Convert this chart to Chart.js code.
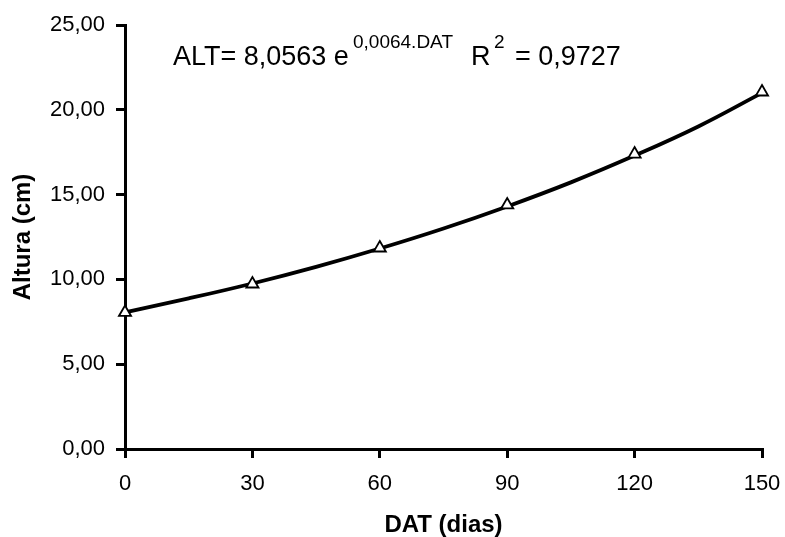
<!DOCTYPE html>
<html>
<head>
<meta charset="utf-8">
<script src="https://cdn.jsdelivr.net/npm/chart.js@4/dist/chart.umd.min.js"></script>
<style>
  html, body { margin: 0; padding: 0; background: #fff; }
  #wrap { width: 785px; height: 537px; }
</style>
</head>
<body>
<div id="wrap"><canvas id="myChart" width="785" height="537"></canvas></div>
<script>
// observed points (DAT, ALT)
var days = [0, 30, 60, 90, 120, 150];
var heights = [8.05, 9.73, 11.85, 14.39, 17.39, 21.05];

// fitted curve, every 15 days
var trendDays = [0, 15, 30, 45, 60, 75, 90, 105, 120, 135, 150];
var trendHeights = [8.06, 8.88, 9.76, 10.74, 11.82, 13.0, 14.3, 15.72, 17.3, 19.02, 21.0];

var xTicks = [0, 30, 60, 90, 120, 150];
var yTicks = [0, 5, 10, 15, 20, 25];

var FONT = '"Liberation Sans", Arial, sans-serif';

function pairs(xs, ys) {
  return xs.map(function(x, i) { return { x: x, y: ys[i] }; });
}

// equation text drawn on top of the chart
var equation = {
  id: 'equation',
  afterDraw: function(chart) {
    var ctx = chart.ctx;
    ctx.save();
    ctx.fillStyle = '#000';
    ctx.textAlign = 'left';
    ctx.textBaseline = 'alphabetic';
    ctx.font = '27px ' + FONT;
    ctx.fillText('ALT= 8,0563 e', 173, 65);
    ctx.fillText('R', 471, 65);
    ctx.fillText('= 0,9727', 515, 65);
    ctx.font = '19px ' + FONT;
    ctx.fillText('0,0064.DAT', 353, 48);
    ctx.fillText('2', 494, 48);
    ctx.restore();
  }
};

var axisLine = { display: true, color: '#000', width: 3 };
var tickMarks = { display: true, drawOnChartArea: false, drawTicks: true, tickLength: 9, color: '#000', lineWidth: 3 };

new Chart(document.getElementById('myChart'), {
  type: 'scatter',
  data: {
    datasets: [{
      type: 'line',
      data: pairs(trendDays, trendHeights),
      borderColor: '#000',
      borderWidth: 3.8,
      pointRadius: 0,
      tension: 0.4,
      fill: false,
      clip: false,
      order: 2
    }, {
      data: pairs(days, heights),
      pointStyle: 'triangle',
      pointRadius: 7,
      pointBackgroundColor: '#fff',
      pointBorderColor: '#000',
      pointBorderWidth: 1.8,
      clip: false,
      order: 1
    }]
  },
  options: {
    responsive: false,
    animation: false,
    layout: { autoPadding: false, padding: { top: 25, right: 23, left: 0, bottom: 0 } },
    plugins: { legend: { display: false }, tooltip: { enabled: false } },
    scales: {
      x: {
        type: 'linear',
        min: 0, max: 150,
        afterBuildTicks: function(s) { s.ticks = xTicks.map(function(v) { return { value: v }; }); },
        afterFit: function(s) { s.height = 88; s.paddingLeft = 0; s.paddingRight = 0; },
        border: axisLine,
        grid: tickMarks,
        ticks: { color: '#000', padding: 13, font: { family: FONT, size: 22 }, maxRotation: 0 },
        title: { display: true, text: 'DAT (dias)', color: '#000', padding: 0,
                 font: { family: FONT, size: 24, weight: 'bold', lineHeight: 1 } }
      },
      y: {
        min: 0, max: 25,
        afterBuildTicks: function(s) { s.ticks = yTicks.map(function(v) { return { value: v }; }); },
        afterFit: function(s) { s.width = 125; s.paddingTop = 0; s.paddingBottom = 0; },
        border: axisLine,
        grid: tickMarks,
        ticks: {
          color: '#000', padding: 11, font: { family: FONT, size: 22 },
          callback: function(v) { return v.toFixed(2).replace('.', ','); }
        },
        title: { display: true, text: 'Altura (cm)', color: '#000', padding: { top: 11 },
                 font: { family: FONT, size: 24, weight: 'bold', lineHeight: 1 } }
      }
    }
  },
  plugins: [equation]
});
</script>
</body>
</html>
